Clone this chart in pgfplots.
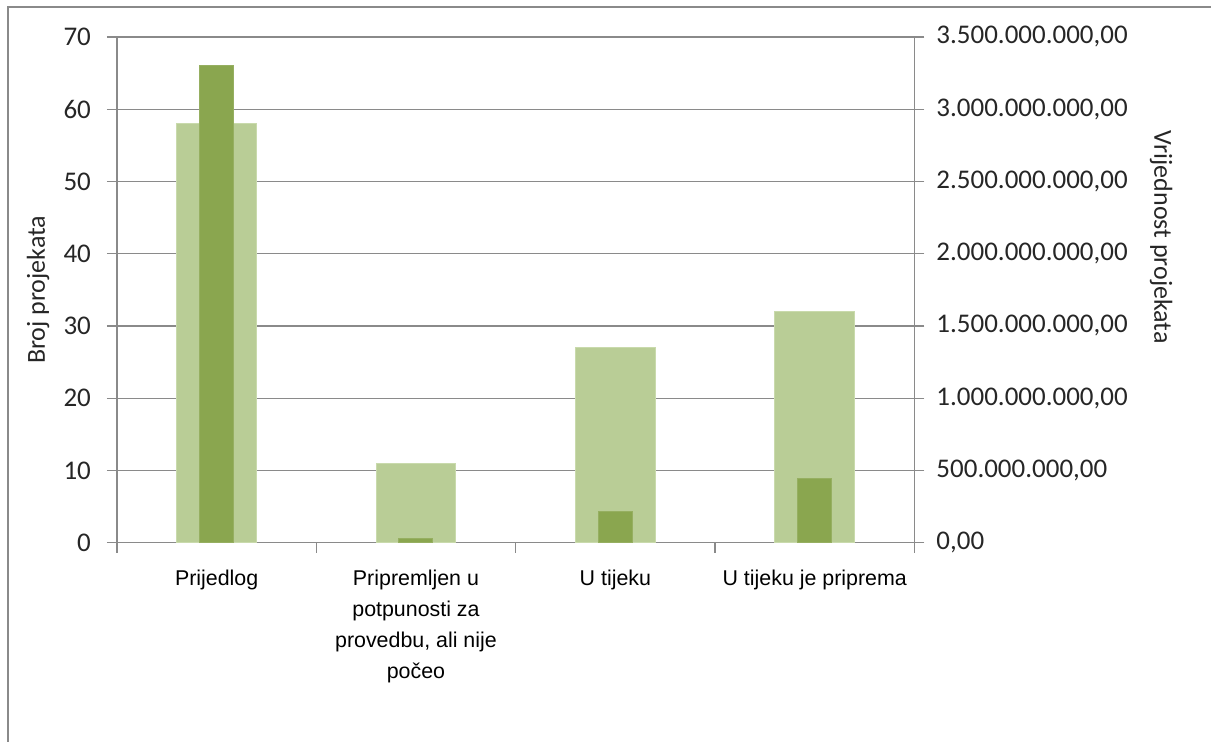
\documentclass[border=0pt]{standalone}
\usepackage{pgfplots}
\pgfplotsset{compat=1.18}
\usepackage{fontspec}
\setmainfont{Carlito}
\newfontfamily\catfont{Liberation Sans}
\definecolor{lightbar}{HTML}{B9CD96}
\definecolor{lightedge}{HTML}{C9DAAC}
\definecolor{darkbar}{HTML}{8AA64F}
\definecolor{axgray}{HTML}{8A8A8A}
\definecolor{txt}{HTML}{262626}

\pgfplotstableread{
x n
0 58
1 11
2 27
3 32
}\counttable
\pgfplotstableread{
x v
0 3300000000
1 28000000
2 215000000
3 445000000
}\valuetable

\begin{document}
\begin{tikzpicture}
\pgfplotsset{
  base/.style={
    width=399pt, height=253pt, scale only axis,
    xmin=-0.5, xmax=3.5, ymin=0,
    axis line style={axgray, line width=0.6pt},
    major tick style={axgray, line width=0.6pt},
    tick align=outside,
    major tick length=5pt,
    /pgf/number format/assume math mode=true,
    tick label style={font=\fontsize{13.5}{15}\selectfont, color=txt},
    label style={font=\fontsize{13}{15}\selectfont, color=txt},
  }
}
\begin{axis}[base, name=ax,
  axis x line*=bottom, axis y line*=left,
  ybar, bar width=40pt,
  ymax=70, ytick={0,10,20,30,40,50,60,70},
  ymajorgrids, grid style={axgray, line width=0.6pt},
  yticklabel style={xshift=-4.5pt},
  xtick={-0.5,0.5,1.5,2.5,3.5},
  xticklabels={{},{},{},{},{}},
  extra x ticks={0,1,2,3},
  extra x tick labels={Prijedlog,{Pripremljen u\\potpunosti za\\provedbu, ali nije\\počeo},U tijeku,U tijeku je priprema},
  extra x tick style={major tick length=0pt, tick style={draw=none},
    xticklabel style={font=\catfont\fontsize{10.7}{15.5}\selectfont, color=black, align=center, anchor=north, yshift=-10pt}},
  ylabel={Broj projekata},
  ylabel style={at={(axis description cs:-0.099,0.5)}, anchor=center},
]
\addplot[fill=lightbar, draw=lightedge, line width=0.5pt] table[x=x,y=n] {\counttable};
\end{axis}
\begin{axis}[base,
  axis y line*=right, axis x line=none,
  ybar, bar width=17pt,
  ymax=3500000000,
  ytick={0,500000000,1000000000,1500000000,2000000000,2500000000,3000000000,3500000000},
  scaled y ticks=false,
  yticklabel style={xshift=2.5pt, /pgf/number format/.cd, fixed, fixed zerofill, precision=2, 1000 sep={.}, use comma},
  ylabel={Vrijednost projekata},
  ylabel style={at={(axis description cs:1.3095,0.604)}, anchor=center, rotate=180},
]
\addplot[fill=darkbar, draw=darkbar!90!white, line width=0.5pt] table[x=x,y=v] {\valuetable};
\end{axis}
\pgfresetboundingbox
\path ([shift={(-58.5pt,-99.5pt)}]ax.south west) rectangle ([shift={(148.5pt,18.5pt)}]ax.north east);
\draw[axgray, line width=0.8pt] ([shift={(-54.5pt,-99.5pt)}]ax.south west) |- ([shift={(148.5pt,15pt)}]ax.north east);
\end{tikzpicture}
\end{document}
